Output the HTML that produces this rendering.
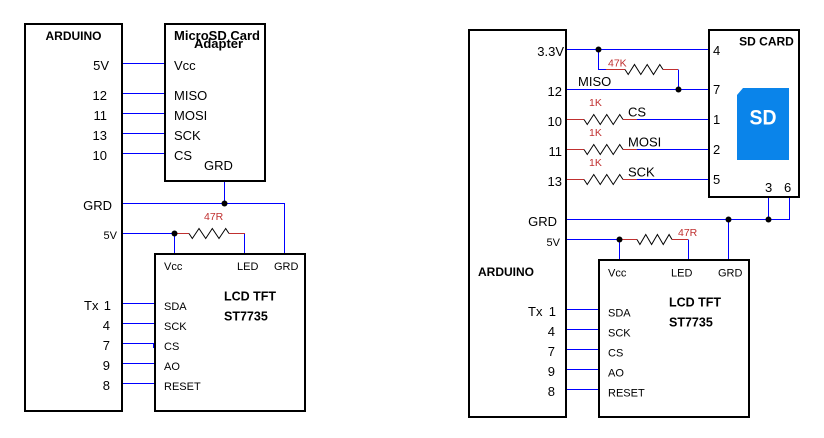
<!DOCTYPE html>
<html><head><meta charset="utf-8"><style>
html,body{margin:0;padding:0;background:#fff;}
svg{display:block;}
text{font-family:"Liberation Sans",Arial,sans-serif;fill:#000;}
.t13{font-size:13px;}
.t11{font-size:11px;}
.r10{font-size:10.5px;fill:#c03030;}
.b{font-weight:bold;}
</style></head><body>
<svg width="824" height="438" viewBox="0 0 824 438" xmlns="http://www.w3.org/2000/svg">
<rect width="824" height="438" fill="#fff"/>
<g fill="none" stroke="#000" stroke-width="2">
<rect x="25" y="24" width="97" height="387"/>
<rect x="165" y="24" width="100" height="157"/>
<rect x="155" y="254" width="150" height="157"/>
<rect x="469" y="30" width="97" height="387"/>
<rect x="709" y="30" width="90" height="167"/>
<rect x="599" y="260" width="150" height="157"/>
</g>
<g stroke="#0000ff" stroke-width="1" fill="none">
<!-- left -->
<path d="M123 63.5H164M123 93.5H164M123 113.5H164M123 133.5H164M123 153.5H164"/>
<path d="M224.5 182V203.5M123 203.5H284.5V253"/>
<path d="M123 233.5H174.5M174.5 233.5V253M244.5 233.5V253"/>
<path d="M123 303.5H154M123 323.5H154M123 343.5H154M123 363.5H154M123 383.5H154M153.5 343V348"/>
<!-- right -->
<path d="M567 49.5H708M598.5 49.5V69.5H606M567 89.5H708M678.5 69.5V89.5"/>
<path d="M637 119.5H708M637 149.5H708M637 179.5H708"/>
<path d="M567 219.5H789.5V198M768.5 198V219.5M728.5 219.5V259"/>
<path d="M567 239.5H619M619.5 239.5V259M688.5 239.5V259"/>
<path d="M567 309.5H598M567 329.5H598M567 349.5H598M567 369.5H598M567 389.5H598"/>
</g>
<g stroke="#c03030" stroke-width="1" fill="none">
<path d="M174 233.5H189M229 233.5H245"/>
<path d="M606 69.5H625M663 69.5H678"/>
<path d="M567 119.5H584M623 119.5H637M567 149.5H584M623 149.5H637M567 179.5H584M623 179.5H637"/>
<path d="M619 239.5H637M672 239.5H688"/>
</g>
<g stroke="#000" stroke-width="1" fill="none">
<polyline points="189,233.5 192.3,238.5 199,228.5 205.7,238.5 212.3,228.5 219,238.5 225.7,228.5 229,233.5"/>
<polyline points="625,69.5 628.2,74.5 634.5,64.5 640.8,74.5 647.2,64.5 653.5,74.5 659.8,64.5 663,69.5"/>
<polyline points="584,119.5 587.25,124.5 593.75,114.5 600.25,124.5 606.75,114.5 613.25,124.5 619.75,114.5 623,119.5"/>
<polyline points="584,149.5 587.25,154.5 593.75,144.5 600.25,154.5 606.75,144.5 613.25,154.5 619.75,144.5 623,149.5"/>
<polyline points="584,179.5 587.25,184.5 593.75,174.5 600.25,184.5 606.75,174.5 613.25,184.5 619.75,174.5 623,179.5"/>
<polyline points="637,239.5 639.9,244.5 645.75,234.5 651.6,244.5 657.4,234.5 663.25,244.5 669.1,234.5 672,239.5"/>
</g>
<g fill="#000">
<circle cx="224.5" cy="203.5" r="3"/>
<circle cx="174.5" cy="233.5" r="3"/>
<circle cx="598.5" cy="49.5" r="3"/>
<circle cx="678.5" cy="89.5" r="3"/>
<circle cx="728.5" cy="219.5" r="3"/>
<circle cx="768.5" cy="219.5" r="3"/>
<circle cx="619.5" cy="239.5" r="3"/>
</g>
<!-- SD icon -->
<path d="M743 88H789V160H737V95Z" fill="#0a84ea"/>
<text x="763" y="124.5" font-size="21" font-weight="bold" text-anchor="middle" textLength="27" lengthAdjust="spacingAndGlyphs" style="fill:#fff">SD</text>

<!-- left labels -->
<text class="b" x="73.5" y="40" text-anchor="middle" style="font-size:12px">ARDUINO</text>
<text class="t13 b" x="217" y="40" text-anchor="middle">MicroSD Card</text>
<text class="t13 b" x="218.5" y="48" text-anchor="middle">Adapter</text>
<g class="t13" text-anchor="end">
<text x="109" y="70">5V</text>
<text x="107" y="100">12</text>
<text x="107" y="120">11</text>
<text x="107" y="140">13</text>
<text x="107" y="160">10</text>
<text x="112" y="210">GRD</text>
<text x="111" y="310">1</text>
<text x="110" y="330">4</text>
<text x="110" y="350">7</text>
<text x="110" y="370">9</text>
<text x="110" y="390">8</text>
</g>
<text class="t13" x="84" y="310">Tx</text>
<text class="t11" x="117" y="239" text-anchor="end">5V</text>
<g class="t13">
<text x="174" y="70">Vcc</text>
<text x="174" y="100">MISO</text>
<text x="174" y="120">MOSI</text>
<text x="174" y="140">SCK</text>
<text x="174" y="160">CS</text>
<text x="204" y="170">GRD</text>
</g>
<text class="r10" x="204" y="220">47R</text>
<g class="t11">
<text x="164" y="270">Vcc</text>
<text x="237" y="270">LED</text>
<text x="274" y="270">GRD</text>
<text x="164" y="310">SDA</text>
<text x="164" y="330">SCK</text>
<text x="164" y="350">CS</text>
<text x="164" y="370">AO</text>
<text x="164" y="390">RESET</text>
</g>
<text class="b" x="224" y="300.5" style="font-size:12.5px">LCD TFT</text>
<text class="b" x="224" y="320.7" style="font-size:12.5px">ST7735</text>

<!-- right labels -->
<g class="t13" text-anchor="end">
<text x="564" y="56">3.3V</text>
<text x="562" y="96">12</text>
<text x="562" y="126">10</text>
<text x="562" y="156">11</text>
<text x="562" y="186">13</text>
<text x="557" y="226">GRD</text>
<text x="556" y="316">1</text>
<text x="555" y="336">4</text>
<text x="555" y="356">7</text>
<text x="555" y="376">9</text>
<text x="555" y="396">8</text>
</g>
<text class="t13" x="528" y="316">Tx</text>
<text class="t11" x="560" y="246" text-anchor="end">5V</text>
<text class="t13" x="578" y="86">MISO</text>
<text class="t13" x="628" y="116.7">CS</text>
<text class="t13" x="628" y="146.7">MOSI</text>
<text class="t13" x="628" y="176.7">SCK</text>
<text class="r10" x="608" y="66.7">47K</text>
<text class="r10" x="589" y="106">1K</text>
<text class="r10" x="589" y="136">1K</text>
<text class="r10" x="589" y="166">1K</text>
<text class="r10" x="678" y="236">47R</text>
<g class="t13">
<text x="713" y="55">4</text>
<text x="713" y="94">7</text>
<text x="713" y="124">1</text>
<text x="713" y="154">2</text>
<text x="713" y="184">5</text>
<text x="765" y="192">3</text>
<text x="784" y="192">6</text>
</g>
<text class="b" x="766.5" y="45.7" text-anchor="middle" style="font-size:12px">SD CARD</text>
<text class="b" x="478" y="276" style="font-size:12px">ARDUINO</text>
<g class="t11">
<text x="608" y="276.7">Vcc</text>
<text x="671" y="276.7">LED</text>
<text x="718" y="276.7">GRD</text>
<text x="608" y="316.7">SDA</text>
<text x="608" y="336.7">SCK</text>
<text x="608" y="356.7">CS</text>
<text x="608" y="376.7">AO</text>
<text x="608" y="396.7">RESET</text>
</g>
<text class="b" x="669" y="306.7" style="font-size:12.5px">LCD TFT</text>
<text class="b" x="669" y="326.7" style="font-size:12.5px">ST7735</text>
</svg>
</body></html>
